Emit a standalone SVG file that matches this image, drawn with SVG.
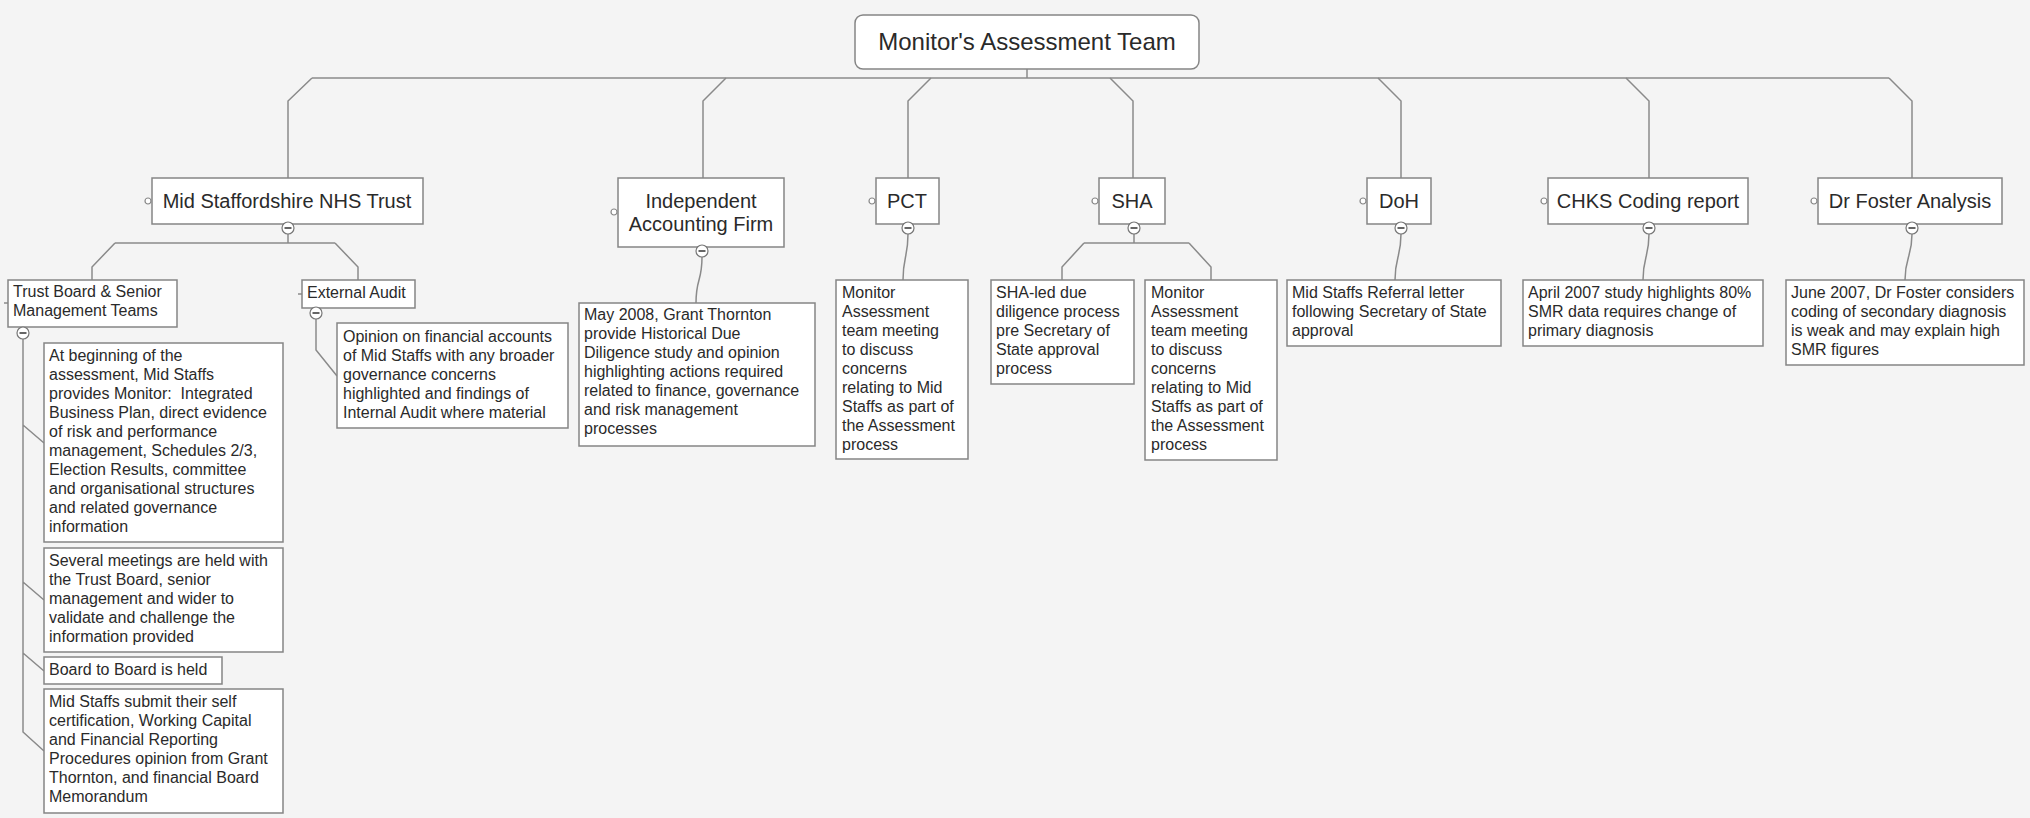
<svg xmlns="http://www.w3.org/2000/svg" width="2030" height="818" viewBox="0 0 2030 818">
<style>
.bg{fill:#f4f4f4}
.box{fill:#fff;stroke:#858585;stroke-width:1.5}
.conn{fill:none;stroke:#8a8a8a;stroke-width:1.5}
.col{fill:#fff;stroke:#777;stroke-width:1.2}
.minus{stroke:#333;stroke-width:1.5}
.hd{fill:#fff;stroke:#888;stroke-width:1.2}
text{font-family:"Liberation Sans",Arial,sans-serif;fill:#2a2a2a;white-space:pre}
.t{font-size:16px}
.tl{font-size:20px;text-anchor:middle}
.root{font-size:24px;text-anchor:middle}
</style>
<defs>
<g id="collapse"><circle r="6" class="col"/><line x1="-3.5" y1="0" x2="3.5" y2="0" class="minus"/></g>
<circle id="handle" r="3" class="hd"/>
</defs>
<rect class="bg" x="0" y="0" width="2030" height="818"/>

<g id="connectors">
<path class="conn" d="M1027,69 V78 M312,78 H1889"/>
<path class="conn" d="M312,78 L288,101 V178"/>
<path class="conn" d="M726,78 L703,101 V178"/>
<path class="conn" d="M931,78 L908,101 V178"/>
<path class="conn" d="M1110,78 L1133,101 V178"/>
<path class="conn" d="M1378,78 L1401,101 V178"/>
<path class="conn" d="M1626,78 L1649,101 V178"/>
<path class="conn" d="M1889,78 L1912,101 V178"/>
<path class="conn" d="M288,234 V243 M115,243 H335 M115,243 L92,267 V280 M335,243 L358,267 V280"/>
<path class="conn" d="M1134,234 V243 M1084,243 H1189 M1084,243 L1062,267 V280 M1189,243 L1211,267 V280"/>
<path class="conn" d="M702,257 C702,282 696,278 696,303"/>
<path class="conn" d="M908,234 C908,257 903,257 903,280"/>
<path class="conn" d="M1401,234 C1401,257 1395,257 1395,280"/>
<path class="conn" d="M1649,234 C1649,257 1643,257 1643,280"/>
<path class="conn" d="M1912,234 C1912,257 1905,257 1905,280"/>
<path class="conn" d="M23,339 V732 L44,751 M23,425 L44,443 M23,582 L44,600 M23,653 L44,671"/>
<path class="conn" d="M316,319 V350 L337,376"/>
<path class="conn" d="M4,303 H8 M298,294 H302"/>
</g>

<g id="root">
<rect class="box" x="855" y="15" width="344" height="54" rx="8"/>
<text class="root" x="1027" y="50">Monitor's Assessment Team</text>
</g>

<g id="mid-staffs">
<rect class="box" x="152" y="178" width="271" height="46"/>
<text class="tl" x="287" y="208">Mid Staffordshire NHS Trust</text>
<use href="#handle" x="148" y="201"/><use href="#collapse" x="288" y="228"/>
</g>

<g id="independent">
<rect class="box" x="618" y="178" width="166" height="69"/>
<text class="tl" x="701"><tspan x="701" y="208">Independent</tspan><tspan x="701" y="231">Accounting Firm</tspan></text>
<use href="#handle" x="614" y="212"/><use href="#collapse" x="702" y="251"/>
</g>

<g id="pct">
<rect class="box" x="876" y="178" width="63" height="46"/>
<text class="tl" x="907" y="208">PCT</text>
<use href="#handle" x="872" y="201"/><use href="#collapse" x="908" y="228"/>
</g>

<g id="sha">
<rect class="box" x="1099" y="178" width="66" height="46"/>
<text class="tl" x="1132" y="208">SHA</text>
<use href="#handle" x="1095" y="201"/><use href="#collapse" x="1134" y="228"/>
</g>

<g id="doh">
<rect class="box" x="1367" y="178" width="64" height="46"/>
<text class="tl" x="1399" y="208">DoH</text>
<use href="#handle" x="1363" y="201"/><use href="#collapse" x="1401" y="228"/>
</g>

<g id="chks">
<rect class="box" x="1548" y="178" width="200" height="46"/>
<text class="tl" x="1648" y="208">CHKS Coding report</text>
<use href="#handle" x="1544" y="201"/><use href="#collapse" x="1649" y="228"/>
</g>

<g id="dr-foster">
<rect class="box" x="1818" y="178" width="184" height="46"/>
<text class="tl" x="1910" y="208">Dr Foster Analysis</text>
<use href="#handle" x="1814" y="201"/><use href="#collapse" x="1912" y="228"/>
</g>

<g id="trust-board">
<rect class="box" x="8" y="280" width="169" height="47"/>
<text class="t"><tspan x="13" y="297">Trust Board &amp; Senior</tspan><tspan x="13" y="316">Management Teams</tspan></text>
<use href="#collapse" x="23" y="333"/>
</g>

<g id="external-audit">
<rect class="box" x="302" y="280" width="113" height="28"/>
<text class="t" x="307" y="298">External Audit</text>
<use href="#collapse" x="316" y="313"/>
</g>

<g id="tb-1">
<rect class="box" x="44" y="343" width="239" height="199"/>
<text class="t"><tspan x="49" y="361">At beginning of the</tspan><tspan x="49" y="380">assessment, Mid Staffs</tspan><tspan x="49" y="399">provides Monitor:  Integrated</tspan><tspan x="49" y="418">Business Plan, direct evidence</tspan><tspan x="49" y="437">of risk and performance</tspan><tspan x="49" y="456">management, Schedules 2/3,</tspan><tspan x="49" y="475">Election Results, committee</tspan><tspan x="49" y="494">and organisational structures</tspan><tspan x="49" y="513">and related governance</tspan><tspan x="49" y="532">information</tspan></text>
</g>

<g id="tb-2">
<rect class="box" x="44" y="548" width="239" height="104"/>
<text class="t"><tspan x="49" y="566">Several meetings are held with</tspan><tspan x="49" y="585">the Trust Board, senior</tspan><tspan x="49" y="604">management and wider to</tspan><tspan x="49" y="623">validate and challenge the</tspan><tspan x="49" y="642">information provided</tspan></text>
</g>

<g id="tb-3">
<rect class="box" x="44" y="657" width="178" height="27"/>
<text class="t" x="49" y="675">Board to Board is held</text>
</g>

<g id="tb-4">
<rect class="box" x="44" y="689" width="239" height="124"/>
<text class="t"><tspan x="49" y="707">Mid Staffs submit their self</tspan><tspan x="49" y="726">certification, Working Capital</tspan><tspan x="49" y="745">and Financial Reporting</tspan><tspan x="49" y="764">Procedures opinion from Grant</tspan><tspan x="49" y="783">Thornton, and financial Board</tspan><tspan x="49" y="802">Memorandum</tspan></text>
</g>

<g id="ea-1">
<rect class="box" x="337" y="323" width="231" height="105"/>
<text class="t"><tspan x="343" y="342">Opinion on financial accounts</tspan><tspan x="343" y="361">of Mid Staffs with any broader</tspan><tspan x="343" y="380">governance concerns</tspan><tspan x="343" y="399">highlighted and findings of</tspan><tspan x="343" y="418">Internal Audit where material</tspan></text>
</g>

<g id="iaf-1">
<rect class="box" x="579" y="303" width="236" height="143"/>
<text class="t"><tspan x="584" y="320">May 2008, Grant Thornton</tspan><tspan x="584" y="339">provide Historical Due</tspan><tspan x="584" y="358">Diligence study and opinion</tspan><tspan x="584" y="377">highlighting actions required</tspan><tspan x="584" y="396">related to finance, governance</tspan><tspan x="584" y="415">and risk management</tspan><tspan x="584" y="434">processes</tspan></text>
</g>

<g id="pct-1">
<rect class="box" x="836" y="280" width="132" height="179"/>
<text class="t"><tspan x="842" y="298">Monitor</tspan><tspan x="842" y="317">Assessment</tspan><tspan x="842" y="336">team meeting</tspan><tspan x="842" y="355">to discuss</tspan><tspan x="842" y="374">concerns</tspan><tspan x="842" y="393">relating to Mid</tspan><tspan x="842" y="412">Staffs as part of</tspan><tspan x="842" y="431">the Assessment</tspan><tspan x="842" y="450">process</tspan></text>
</g>

<g id="sha-1">
<rect class="box" x="991" y="280" width="143" height="104"/>
<text class="t"><tspan x="996" y="298">SHA-led due</tspan><tspan x="996" y="317">diligence process</tspan><tspan x="996" y="336">pre Secretary of</tspan><tspan x="996" y="355">State approval</tspan><tspan x="996" y="374">process</tspan></text>
</g>

<g id="sha-2">
<rect class="box" x="1145" y="280" width="132" height="180"/>
<text class="t"><tspan x="1151" y="298">Monitor</tspan><tspan x="1151" y="317">Assessment</tspan><tspan x="1151" y="336">team meeting</tspan><tspan x="1151" y="355">to discuss</tspan><tspan x="1151" y="374">concerns</tspan><tspan x="1151" y="393">relating to Mid</tspan><tspan x="1151" y="412">Staffs as part of</tspan><tspan x="1151" y="431">the Assessment</tspan><tspan x="1151" y="450">process</tspan></text>
</g>

<g id="doh-1">
<rect class="box" x="1287" y="280" width="214" height="66"/>
<text class="t"><tspan x="1292" y="298">Mid Staffs Referral letter</tspan><tspan x="1292" y="317">following Secretary of State</tspan><tspan x="1292" y="336">approval</tspan></text>
</g>

<g id="chks-1">
<rect class="box" x="1523" y="280" width="240" height="66"/>
<text class="t"><tspan x="1528" y="298">April 2007 study highlights 80%</tspan><tspan x="1528" y="317">SMR data requires change of</tspan><tspan x="1528" y="336">primary diagnosis</tspan></text>
</g>

<g id="drf-1">
<rect class="box" x="1786" y="280" width="238" height="85"/>
<text class="t"><tspan x="1791" y="298">June 2007, Dr Foster considers</tspan><tspan x="1791" y="317">coding of secondary diagnosis</tspan><tspan x="1791" y="336">is weak and may explain high</tspan><tspan x="1791" y="355">SMR figures</tspan></text>
</g>
</svg>
